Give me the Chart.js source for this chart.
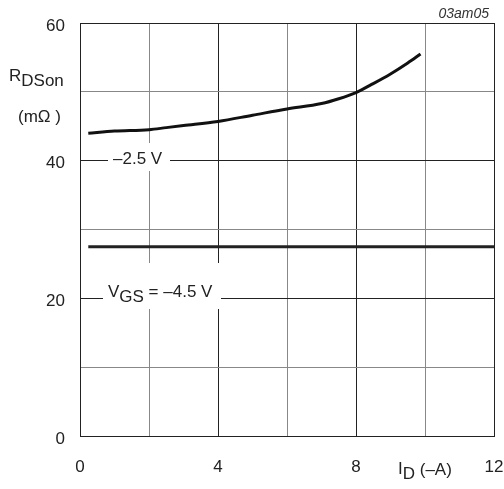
<!DOCTYPE html>
<html>
<head>
<meta charset="utf-8">
<script src="https://cdn.jsdelivr.net/npm/chart.js@4"></script>
<style>
html,body{margin:0;padding:0;background:#fff;}
#wrap{position:relative;width:504px;height:489px;}
</style>
</head>
<body>
<div id="wrap"><canvas id="c" width="504" height="489"></canvas></div>
<script>
// Data
const vgs25X = [0.24, 1, 2, 2.5, 3, 4, 5, 6, 7, 7.5, 8, 8.5, 9, 9.5, 9.87];
const vgs25Y = [44.0, 44.3, 44.5, 44.8, 45.1, 45.7, 46.6, 47.5, 48.3, 49.0, 49.9, 51.2, 52.6, 54.2, 55.5];
const vgs45X = [0.24, 12];
const vgs45Y = [27.5, 27.5];
const xTickLabels = [0, 4, 8, 12];
const yTickLabels = [0, 20, 40, 60];

const FONT = "'Liberation Sans', Arial, sans-serif";
const TXT = '#222';

function pts(xs, ys){ return xs.map((x,i)=>({x:x, y:ys[i]})); }

const labelsPlugin = {
  id: 'labels',
  beforeDatasetsDraw(chart){
    const ctx = chart.ctx;
    ctx.save();
    ctx.fillStyle = '#fff';
    ctx.fillRect(108, 143, 62, 28);
    ctx.fillRect(103, 263, 118, 46);
    ctx.fillStyle = TXT;
    ctx.textBaseline = 'alphabetic';
    ctx.textAlign = 'left';
    ctx.font = '17px ' + FONT;
    ctx.fillText('\u20132.5 V', 113, 164);
    let x = 108;
    ctx.fillText('V', x, 297); x += ctx.measureText('V').width;
    ctx.fillText('GS', x, 302); x += ctx.measureText('GS').width;
    ctx.fillText(' = \u20134.5 V', x, 297);
    ctx.restore();
  },
  afterDraw(chart){
    const ctx = chart.ctx;
    ctx.save();
    ctx.fillStyle = TXT;
    ctx.textBaseline = 'alphabetic';
    ctx.textAlign = 'left';
    ctx.font = '17px ' + FONT;
    ctx.fillText('R', 9, 81);
    let w = ctx.measureText('R').width;
    ctx.fillText('DSon', 9 + w, 86);
    ctx.fillText('(m\u03A9 )', 18, 122);
    ctx.fillText('I', 398, 474);
    w = ctx.measureText('I').width;
    ctx.fillText('D', 398 + w, 479);
    w += ctx.measureText('D').width;
    ctx.fillText(' (\u2013A)', 398 + w, 475);
    ctx.font = 'italic 14px ' + FONT;
    ctx.fillStyle = '#333';
    ctx.textAlign = 'right';
    ctx.fillText('03am05', 489, 18);
    ctx.restore();
  }
};

new Chart(document.getElementById('c'), {
  type: 'line',
  data: {
    datasets: [
      { data: pts(vgs25X, vgs25Y), borderColor: '#111', borderWidth: 3, pointRadius: 0, cubicInterpolationMode: 'monotone', fill: false },
      { data: pts(vgs45X, vgs45Y), borderColor: '#222', borderWidth: 3, pointRadius: 0, fill: false }
    ]
  },
  options: {
    responsive: false,
    animation: false,
    events: [],
    layout: { padding: { left: 0, top: 23, right: 10, bottom: 0 } },
    plugins: { legend: { display: false }, tooltip: { enabled: false } },
    scales: {
      x: {
        type: 'linear', min: 0, max: 12,
        afterFit(s){ s.height = 53; s.paddingLeft = 0; s.paddingRight = 0; },
        border: { display: true, color: '#222', width: 1 },
        grid: { drawTicks: false, lineWidth: 1, color: c => (c.tick && c.tick.value % 4 === 0) ? '#222' : '#888' },
        ticks: { stepSize: 2, padding: 21, color: TXT, font: { size: 17, family: FONT },
          callback: v => xTickLabels.includes(v) ? String(v) : '' }
      },
      y: {
        type: 'linear', min: 0, max: 60,
        afterFit(s){ s.width = 80; s.paddingTop = 0; s.paddingBottom = 0; },
        border: { display: true, color: '#222', width: 1 },
        grid: { drawTicks: false, lineWidth: 1, color: c => (c.tick && c.tick.value % 20 === 0) ? '#222' : '#888' },
        ticks: { stepSize: 10, padding: 15, labelOffset: 3, color: TXT, font: { size: 17, family: FONT },
          callback: v => yTickLabels.includes(v) ? String(v) : '' }
      }
    }
  },
  plugins: [labelsPlugin]
});
</script>
</body>
</html>
